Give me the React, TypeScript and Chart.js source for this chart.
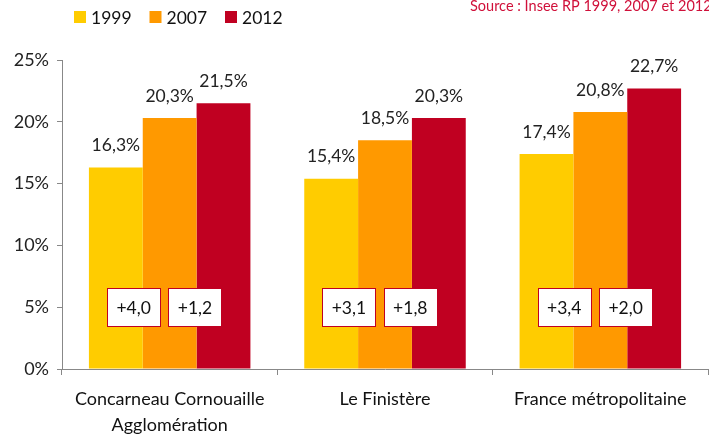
import React, { useEffect, useRef } from "react";
import { Chart, registerables } from "chart.js";

Chart.register(...registerables);

const categories: (string | string[])[] = [
  ["Concarneau Cornouaille", "Agglomération"],
  "Le Finistère",
  "France métropolitaine",
];
const years = ["1999", "2007", "2012"];
const values1999 = [16.3, 15.4, 17.4];
const values2007 = [20.3, 18.5, 20.8];
const values2012 = [21.5, 20.3, 22.7];
const diff1999to2007 = ["+4,0", "+3,1", "+3,4"];
const diff2007to2012 = ["+1,2", "+1,8", "+2,0"];
const colors = ["#FFCC00", "#FF9900", "#C00021"];
const sourceText = "Source : Insee RP 1999, 2007 et 2012";

const FONT = "Lato, 'Open Sans', sans-serif";

const fmt = (v: number) => v.toFixed(1).replace(".", ",") + "%";

const overlayPlugin = {
  id: "overlay",
  afterDatasetsDraw(chart: any) {
    const ctx = chart.ctx as CanvasRenderingContext2D;
    ctx.save();
    // data labels
    ctx.font = `17.5px ${FONT}`;
    ctx.fillStyle = "#222";
    ctx.textAlign = "center";
    ctx.textBaseline = "middle";
    chart.data.datasets.forEach((ds: any, di: number) => {
      const meta = chart.getDatasetMeta(di);
      meta.data.forEach((bar: any, i: number) => {
        ctx.fillText(fmt(ds.data[i]), bar.x, bar.y - 22);
      });
    });
    // diff boxes
    const yScale = chart.scales.y;
    const yc = yScale.getPixelForValue(5);
    const m0 = chart.getDatasetMeta(0);
    const m1 = chart.getDatasetMeta(1);
    const m2 = chart.getDatasetMeta(2);
    const drawBox = (cx: number, text: string) => {
      const w = 53;
      const h = 38;
      const x = Math.round(cx - w / 2) + 0.5;
      const y = Math.round(yc - h / 2) + 0.5;
      ctx.fillStyle = "#ffffff";
      ctx.fillRect(x, y, w, h);
      ctx.strokeStyle = "#C00021";
      ctx.lineWidth = 1;
      ctx.strokeRect(x, y, w, h);
      ctx.fillStyle = "#111";
      ctx.fillText(text, cx, yc + 1);
    };
    m0.data.forEach((b0: any, i: number) => {
      const b1 = m1.data[i];
      const b2 = m2.data[i];
      const c1 = b0.x + (b1.x - b0.x) * 0.33;
      const c2 = b1.x + (b2.x - b1.x) * 0.47;
      drawBox(c1, diff1999to2007[i]);
      drawBox(c2, diff2007to2012[i]);
    });
    // legend
    let lx = 74;
    years.forEach((yr, i) => {
      ctx.fillStyle = colors[i];
      ctx.fillRect(lx, 11, 12, 12);
      ctx.fillStyle = "#111";
      ctx.textAlign = "left";
      ctx.font = `17.5px ${FONT}`;
      ctx.fillText(yr, lx + 17, 18);
      lx += 75.5;
    });
    // source
    ctx.font = `14.5px ${FONT}`;
    ctx.fillStyle = "#D0103A";
    ctx.textAlign = "left";
    ctx.fillText(sourceText, 470, 6);
    ctx.restore();
  },
};

export default function App() {
  const ref = useRef<HTMLCanvasElement | null>(null);
  useEffect(() => {
    if (!ref.current) return;
    const chart = new Chart(ref.current, {
      type: "bar",
      data: {
        labels: categories,
        datasets: [
          { label: years[0], data: values1999, backgroundColor: colors[0] },
          { label: years[1], data: values2007, backgroundColor: colors[1] },
          { label: years[2], data: values2012, backgroundColor: colors[2] },
        ],
      },
      options: {
        animation: false,
        responsive: false,
        events: [],
        datasets: {
          bar: { categoryPercentage: 0.75, barPercentage: 1 },
        } as any,
        layout: { padding: { top: 60, left: 0, right: 1, bottom: 0 } },
        plugins: {
          legend: { display: false },
          tooltip: { enabled: false },
          title: { display: false },
        },
        scales: {
          x: {
            grid: {
              drawOnChartArea: false,
              offset: true,
              tickLength: 6,
              color: "#888",
            },
            border: { color: "#888" },
            ticks: {
              font: { size: 18, family: FONT, lineHeight: 1.4 },
              color: "#111",
              padding: 12,
              maxRotation: 0,
              autoSkip: false,
            },
            afterFit: (s: any) => {
              s.height = 65;
            },
          },
          y: {
            min: 0,
            max: 25,
            grid: { drawOnChartArea: false, tickLength: 5, color: "#888" },
            border: { color: "#888" },
            ticks: {
              stepSize: 5,
              font: { size: 18, family: FONT },
              color: "#222",
              padding: 8,
              callback: (v: any) => `${v}%`,
            },
            afterFit: (s: any) => {
              s.width = 62;
            },
          },
        },
      },
      plugins: [overlayPlugin],
    });
    return () => chart.destroy();
  }, []);
  return (
    <div style={{ position: "absolute", left: 0, top: 0, width: 709, height: 434, background: "#fff" }}>
      <canvas ref={ref} width={709} height={434} style={{ width: 709, height: 434, display: "block" }} />
    </div>
  );
}
